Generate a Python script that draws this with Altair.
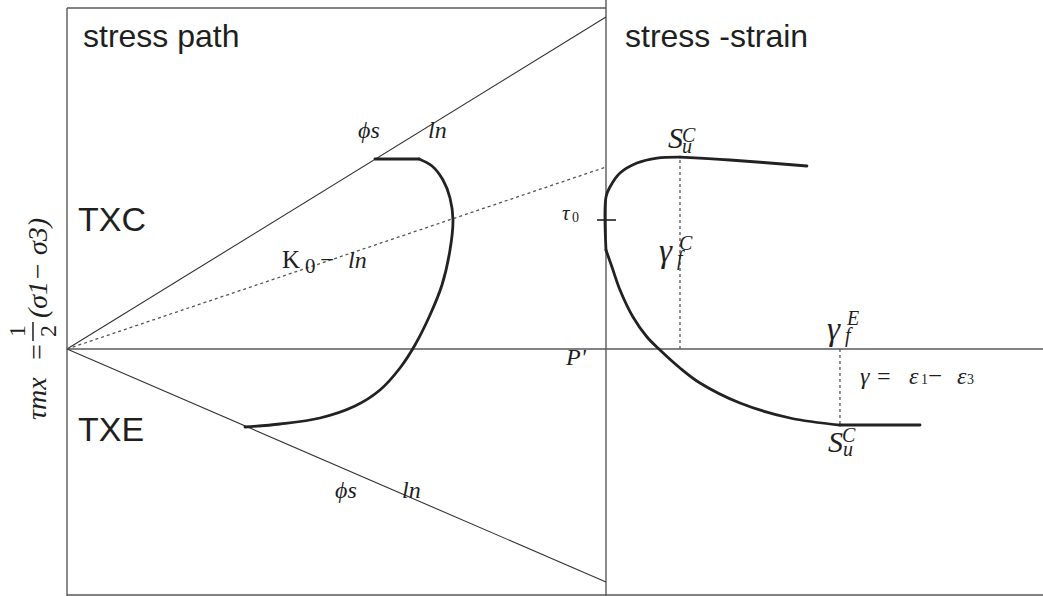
import altair as alt
import pandas as pd

W, H = 1043, 596
# shared diagram units: p' (left panel) and strain (right panel, offset by the divider)
X_DOMAIN = [-1.243, 18.108]
Y_DOMAIN = [-7.243, 10.235]
GAMMA0 = 10.0

# frame, axis and straight reference lines (x, y) -> (x2, y2)
frame_x = [0, 0, 10, 0, 0]
frame_y = [10.0, 10.0, 10.235, -7.214, 0]
frame_x2 = [0, 10, 10, 18.108, 18.108]
frame_y2 = [-7.243, 10.0, -7.243, -7.214, 0]

envelope_x = [0, 0]
envelope_y = [0, 0]
envelope_x2 = [10, 10]
envelope_y2 = [9.736, -6.833]

k0_x, k0_y, k0_x2, k0_y2 = [0], [0], [10], [5.337]

# effective stress path (p', q): flat start, then the curved part
path_flat_p = [5.714, 6.531]
path_flat_q = [5.572, 5.572]
path_p = [6.531, 6.772, 6.976, 7.106, 7.161, 7.106, 6.957, 6.735, 6.456,
          6.178, 5.807, 5.343, 4.694, 3.952, 3.302]
path_q = [5.572, 5.367, 4.956, 4.428, 3.783, 2.903, 1.877, 0.997, 0.117,
          -0.557, -1.202, -1.672, -2.023, -2.199, -2.287]

# stress-strain curves (gamma, tau)
txc_g = [0, 0, 0.074, 0.260, 0.575, 0.946, 1.373]
txc_t = [2.903, 4.458, 4.751, 5.161, 5.455, 5.601, 5.630]
txc_soft_g = [1.373, 2.300, 3.729]
txc_soft_t = [5.630, 5.543, 5.367]
txe_g = [0, 0.111, 0.260, 0.501, 0.761, 1.002, 1.373, 1.744, 2.486, 3.414, 4.341]
txe_t = [2.903, 2.405, 1.730, 0.938, 0.352, -0.029, -0.557, -0.997, -1.584, -2.023,
         -2.229]
txe_flat_g = [4.341, 5.826]
txe_flat_t = [-2.229, -2.229]

# failure strains and initial shear stress
fail_g = [1.373, 4.341]
fail_t = [5.630, -2.229]
tau0 = 3.783
tau0_g = [-0.167, 0.186]

# annotation anchors (x, y, text)
sans_big = [(0.204, 3.460, "TXC"), (0.204, -2.698, "TXE")]
sans_title = [(0.297, 8.856, "stress path"), (10.353, 8.856, "stress -strain")]
math_mid = [(5.399, 6.188, "ϕs"), (6.698, 6.188, "ln"),
            (4.972, -4.370, "ϕs"), (6.215, -4.370, "ln"),
            (5.213, 2.375, "ln"), (9.258, -0.469, "P'"),
            (14.712, -1.026, "γ ="), (15.622, -1.026, "ε"), (16.512, -1.026, "ε")]
upright_mid = [(3.989, 2.375, "K"), (4.694, 2.375, "−"), (15.974, -1.026, "−")]
upright_sub = [(4.415, 2.229, "0")]
small_digits = [(15.844, -1.026, "1"), (16.698, -1.026, "3"), (9.369, 3.724, "0")]
tau_label = [(9.184, 3.783, "τ")]
big_S = [(11.150, 5.894, "S"), (14.119, -3.021, "S")]
big_gamma = [(10.983, 2.551, "γ"), (14.100, 0.264, "γ")]
scripts = [(11.410, 6.070, "C"), (11.410, 5.748, "u"),
           (11.354, 2.903, "C"), (11.317, 2.463, "f"),
           (14.471, 0.704, "E"), (14.434, 0.205, "f"),
           (14.378, -2.727, "C"), (14.397, -3.138, "u")]

# rotated shear-stress axis title pieces
ytitle_left = [(-0.390, -2.082, "τmx"), (-0.371, 0.909, "(σ1− σ3)")]
ytitle_center = [(-0.390, -0.088, "=")]
ytitle_frac = [(-0.779, 0.528, "1"), (-0.204, 0.528, "2")]
frac_bar_x, frac_bar_y, frac_bar_y2 = [-0.631], [0.792], [0.234]


def xs(field):
    return alt.X(field, type="quantitative", axis=None,
                 scale=alt.Scale(domain=X_DOMAIN, nice=False, zero=False))


def ys(field):
    return alt.Y(field, type="quantitative", axis=None,
                 scale=alt.Scale(domain=Y_DOMAIN, nice=False, zero=False))


def segs(x, y, x2, y2):
    return pd.DataFrame({"x": x, "y": y, "x2": x2, "y2": y2})


def rules(df, **kw):
    return alt.Chart(df).mark_rule(**kw).encode(
        x=xs("x"), y=ys("y"), x2="x2", y2="y2")


def curve(xv, yv, **kw):
    df = pd.DataFrame({"x": xv, "y": yv, "i": range(len(xv))})
    return alt.Chart(df).mark_line(**kw).encode(
        x=xs("x"), y=ys("y"), order="i:Q")


def labels(rows, **kw):
    df = pd.DataFrame(rows, columns=["x", "y", "t"])
    return alt.Chart(df).mark_text(**kw).encode(
        x=xs("x"), y=ys("y"), text="t:N")


def shift(values):
    return [v + GAMMA0 for v in values]


LINE = "#595959"
INK = "#1f1f1f"
CURVE = "#222222"
SERIF = "Liberation Serif"
SANS = "Liberation Sans"
thick = dict(color=CURVE, strokeWidth=2.8, strokeCap="round", strokeJoin="round")

layers = [
    rules(segs(frame_x, frame_y, frame_x2, frame_y2), color=LINE, strokeWidth=1.4),
    rules(segs(envelope_x, envelope_y, envelope_x2, envelope_y2), color="#333333",
          strokeWidth=1.1),
    rules(segs(k0_x, k0_y, k0_x2, k0_y2), color="#555555", strokeWidth=1.3,
          strokeDash=[3, 3]),
    rules(segs(shift(fail_g), [0, 0], shift(fail_g), fail_t), color="#555555",
          strokeWidth=1.3, strokeDash=[3, 3]),
    rules(segs(shift(tau0_g[:1]), [tau0], shift(tau0_g[1:]), [tau0]), color=CURVE,
          strokeWidth=1.6),
    curve(path_flat_p, path_flat_q, **thick),
    curve(path_p, path_q, interpolate="catmull-rom", **thick),
    curve(shift(txc_g), txc_t, interpolate="catmull-rom", **thick),
    curve(shift(txc_soft_g), txc_soft_t, interpolate="catmull-rom", **thick),
    curve(shift(txe_g), txe_t, interpolate="catmull-rom", **thick),
    curve(shift(txe_flat_g), txe_flat_t, **thick),
    rules(segs(frac_bar_x, frac_bar_y, frac_bar_x, frac_bar_y2), color=INK,
          strokeWidth=1.5),
    labels(sans_title, font=SANS, fontSize=32, align="left", baseline="alphabetic",
           color=INK),
    labels(sans_big, font=SANS, fontSize=34, align="left", baseline="alphabetic",
           color=INK),
    labels(math_mid, font=SERIF, fontSize=24, fontStyle="italic", align="left",
           baseline="alphabetic", color=INK),
    labels(upright_mid, font=SERIF, fontSize=25, align="left", baseline="alphabetic",
           color=INK),
    labels(upright_sub, font=SERIF, fontSize=21, align="left", baseline="alphabetic",
           color=INK),
    labels(small_digits, font=SERIF, fontSize=14, align="left", baseline="alphabetic",
           color=INK),
    labels(tau_label, font=SERIF, fontSize=21, fontStyle="italic", align="left",
           baseline="alphabetic", color=INK),
    labels(big_S, font=SERIF, fontSize=30, fontStyle="italic", align="left",
           baseline="alphabetic", color=INK),
    labels(big_gamma, font=SERIF, fontSize=33, fontStyle="italic", align="left",
           baseline="alphabetic", color=INK),
    labels(scripts, font=SERIF, fontSize=20, fontStyle="italic", align="left",
           baseline="alphabetic", color=INK),
    labels(ytitle_left, font=SERIF, fontSize=28, fontStyle="italic", align="left",
           baseline="alphabetic", angle=270, color=INK),
    labels(ytitle_center, font=SERIF, fontSize=28, align="center",
           baseline="alphabetic", angle=270, color=INK),
    labels(ytitle_frac, font=SERIF, fontSize=24, align="center",
           baseline="alphabetic", angle=270, color=INK),
]

chart = alt.layer(*layers).properties(
    width=W, height=H, padding=0, autosize="none", background="white"
).configure_view(stroke=None)

chart.save("out.html", embed_options={"renderer": "svg", "actions": False})
